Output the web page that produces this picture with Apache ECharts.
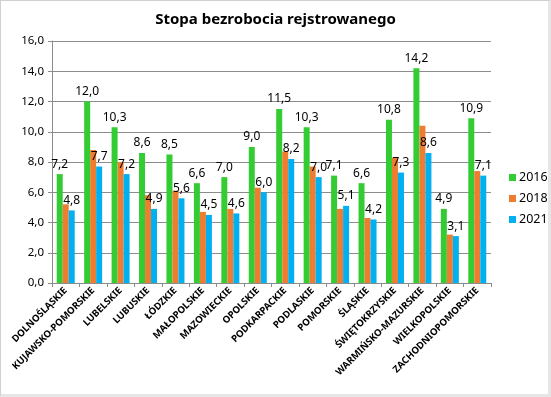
<!DOCTYPE html>
<html>
<head>
<meta charset="utf-8">
<script src="https://cdn.jsdelivr.net/npm/echarts@6/dist/echarts.min.js"></script>
<style>
html,body{margin:0;padding:0;background:#fff;}
#wrap{position:relative;width:551px;height:397px;}
#main{position:absolute;left:0;top:0;width:551px;height:397px;}
#frame{position:absolute;left:0;top:0;width:551px;height:397px;box-sizing:border-box;border:1px solid #d0d0d0;border-right:3px solid #e6e6e6;border-bottom:3px solid #e6e6e6;pointer-events:none;}
</style>
</head>
<body>
<div id="wrap"><div id="main"></div><div id="frame"></div></div>
<script>
// wojewodztwa
var regions = ['DOLNOŚLĄSKIE','KUJAWSKO-POMORSKIE','LUBELSKIE','LUBUSKIE','ŁÓDZKIE','MAŁOPOLSKIE','MAZOWIECKIE','OPOLSKIE','PODKARPACKIE','PODLASKIE','POMORSKIE','ŚLĄSKIE','ŚWIĘTOKRZYSKIE','WARMIŃSKO-MAZURSKIE','WIELKOPOLSKIE','ZACHODNIOPOMORSKIE'];
var years = ['2016','2018','2021'];
var v2016 = [7.2,12.0,10.3,8.6,8.5,6.6,7.0,9.0,11.5,10.3,7.1,6.6,10.8,14.2,4.9,10.9];
var v2018 = [5.2,8.8,8.0,5.8,6.1,4.7,4.9,6.3,8.7,7.7,4.9,4.3,8.3,10.4,3.2,7.4];
var v2021 = [4.8,7.7,7.2,4.9,5.6,4.5,4.6,6.0,8.2,7.0,5.1,4.2,7.3,8.6,3.1,7.1];
var yTicks = [0,2,4,6,8,10,12,14,16];

function fmt(v){
	return v.toFixed(1).replace('.',',');
}

var myChart = echarts.init(document.getElementById('main'));
var lbl = {
	show:true,
	position:'top',
	distance:4,
	color:'#000',
	fontSize:12,
	fontFamily:'Noto Sans',
	formatter:function(p){ return fmt(p.value); }
};
var option = {
	animation:false,
	title:{
		text:'Stopa bezrobocia rejstrowanego',
		left:'center',
		top:7,
		textStyle:{fontSize:15,fontWeight:'bold',color:'#000',fontFamily:'Noto Sans'}
	},
	legend:{
		orient:'vertical',
		left:504,
		top:166,
		itemWidth:7,
		itemHeight:7,
		itemGap:8,
		icon:'rect',
		textStyle:{fontSize:12.5,color:'#000',fontFamily:'Noto Sans',padding:[0,0,0,-2]},
		data:years
	},
	grid:{left:52,right:60,top:41,bottom:114},
	xAxis:{
		type:'category',
		data:regions,
		axisLine:{lineStyle:{color:'#8c8c8c'}},
		axisTick:{show:true,length:4,lineStyle:{color:'#8c8c8c'}},
		axisLabel:{
			interval:0,
			rotate:45,
			margin:6,
			fontSize:9.6,
			fontWeight:'bold',
			color:'#000',
			fontFamily:'Noto Sans'
		}
	},
	yAxis:{
		type:'value',
		min:yTicks[0],
		max:yTicks[yTicks.length-1],
		interval:2,
		axisLine:{show:true,lineStyle:{color:'#8c8c8c'}},
		axisTick:{show:true,length:4,lineStyle:{color:'#8c8c8c'}},
		splitLine:{lineStyle:{color:'#8c8c8c'}},
		axisLabel:{
			fontSize:11.5,
			color:'#000',
			fontFamily:'Noto Sans',
			margin:8,
			formatter:function(v){ return fmt(v); }
		}
	},
	series:[
		{name:years[0],type:'bar',data:v2016,barWidth:6,barGap:'0%',
			itemStyle:{color:'#33cc33'},label:lbl},
		{name:years[1],type:'bar',data:v2018,barWidth:6,barGap:'0%',
			itemStyle:{color:'#ed7d31'}},
		{name:years[2],type:'bar',data:v2021,barWidth:6,barGap:'0%',
			itemStyle:{color:'#00b0f0'},label:lbl}
	]
};
myChart.setOption(option);
</script>
</body>
</html>
